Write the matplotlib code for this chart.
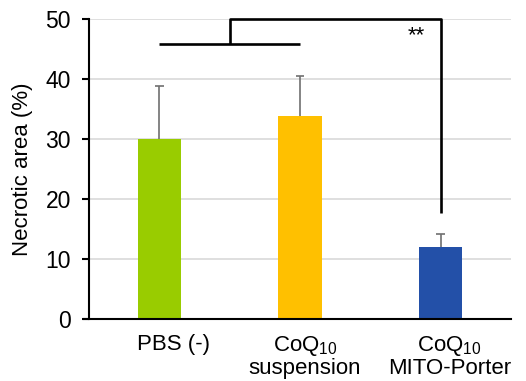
import matplotlib
matplotlib.use("Agg")
from matplotlib import pyplot as plt
from matplotlib.transforms import ScaledTranslation

plt.rcParams['font.family'] = ['Liberation Sans', 'DejaVu Sans']
plt.rcParams['mathtext.fontset'] = 'custom'
plt.rcParams['mathtext.rm'] = 'Liberation Sans'
plt.rcParams['mathtext.it'] = 'Liberation Sans'

groups = ['PBS (-)', 'CoQ$_{\\mathregular{10}}$\nsuspension', 'CoQ$_{\\mathregular{10}}$\nMITO-Porter']
means = [30.0, 33.8, 12.0]
errors = [8.8, 6.7, 2.2]
colors = ['#99CC00', '#FFC000', '#2350A8']
yticks = [0, 10, 20, 30, 40, 50]

fig = plt.figure(figsize=(5.26, 3.81), dpi=100)
ax = fig.add_axes([89 / 526, 1 - 319 / 381, 422 / 526, 300 / 381])

x = list(range(len(groups)))
ax.bar(x, means, width=0.31, color=colors, zorder=3)
tops = [m + e for m, e in zip(means, errors)]
ax.vlines(x, means, tops, color='#707070', lw=1.2, zorder=2)
ax.hlines(tops, [i - 0.03 for i in x], [i + 0.03 for i in x], color='#707070', lw=1.2, zorder=2)

ax.set_xlim(-0.5, 2.5)
ax.set_ylim(0, 50)
ax.set_yticks(yticks)
ax.yaxis.grid(True, color='#d9d9d9', linewidth=1.2, zorder=0)
ax.set_axisbelow(True)
ax.set_xticks(x)
ax.set_xticklabels(groups, fontsize=16, linespacing=1.0, va='top')
ax.tick_params(axis='x', length=0, pad=11)
ax.tick_params(axis='y', labelsize=16.5, length=5, width=1.5, direction='out', pad=8)
ax.set_ylabel('Necrotic area (%)', fontsize=16, labelpad=9)

# labels sit slightly right of the bar centres in the original
for lbl, dx in zip(ax.get_xticklabels(), [14, 5, 9]):
    lbl.set_transform(lbl.get_transform() + ScaledTranslation(dx / 100, 0, fig.dpi_scale_trans))

for s in ['top', 'right']:
    ax.spines[s].set_visible(False)
ax.spines['left'].set_linewidth(1.5)
ax.spines['bottom'].set_linewidth(1.5)
ax.spines['left'].set_zorder(5)
ax.spines['bottom'].set_zorder(5)
ax.spines['bottom'].set_bounds(-0.535, 2.5)

# significance bracket
ax.plot([0, 1], [45.8, 45.8], color='black', lw=1.9, solid_capstyle='butt', clip_on=False, zorder=5)
ax.plot([0.5, 0.5, 2.0, 2.0], [45.8, 50, 50, 17.7], color='black', lw=1.9,
        solid_capstyle='butt', clip_on=False, zorder=5)
ax.text(1.83, 47.3, '**', ha='center', va='center', fontsize=16)

fig.savefig('out.png', dpi=100)
